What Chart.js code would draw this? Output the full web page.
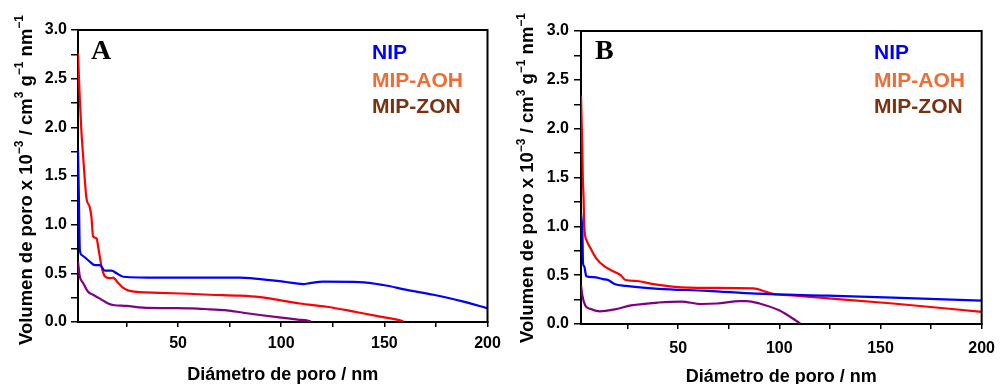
<!DOCTYPE html>
<html><head><meta charset="utf-8">
<script src="https://cdn.jsdelivr.net/npm/chart.js@4.4.0/dist/chart.umd.min.js"></script>
<style>html,body{margin:0;padding:0;background:#fff;width:1005px;height:384px;overflow:hidden}
canvas{position:absolute;left:0;top:0}</style></head>
<body>
<canvas id="cA" width="1005" height="384"></canvas>
<canvas id="cB" width="1005" height="384"></canvas>
<script>
// ---------- data (pore diameter in nm, pore volume x10^-3 cm3 g-1 nm-1) ----------
const seriesNames = ['NIP', 'MIP-AOH', 'MIP-ZON'];
const xTickValues = [25, 50, 75, 100, 125, 150, 175, 200];
const yTickValues = [0, 0.25, 0.5, 0.75, 1, 1.25, 1.5, 1.75, 2, 2.25, 2.5, 2.75, 3];

// Panel A
const xA_NIP = [1.5, 1.9, 2.4, 3.2, 5.6, 7.2, 9.7, 12.1, 14.5, 17.8, 20.2, 23.4, 41, 80, 85, 101, 110.7, 114, 120.4, 138, 149.5, 160.9, 173.8, 188.4, 200];
const yA_NIP = [1.77, 1.32, 0.74, 0.69, 0.65, 0.62, 0.585, 0.585, 0.527, 0.527, 0.50, 0.465, 0.455, 0.455, 0.45, 0.414, 0.39, 0.40, 0.414, 0.41, 0.38, 0.33, 0.28, 0.21, 0.14];
const xA_AOH = [1.5, 2.4, 3.2, 4.0, 4.8, 5.6, 7.2, 8.0, 8.8, 10.5, 11.3, 12.9, 14.5, 16.9, 18.5, 21.0, 23.4, 26.6, 41, 55, 65.5, 80, 89.7, 97.8, 109, 122, 133.4, 138.2, 148, 158.4, 159.2];
const yA_AOH = [2.76, 2.28, 1.94, 1.70, 1.46, 1.27, 1.18, 1.08, 0.88, 0.86, 0.77, 0.57, 0.47, 0.45, 0.455, 0.40, 0.35, 0.32, 0.30, 0.29, 0.28, 0.27, 0.255, 0.23, 0.19, 0.157, 0.115, 0.095, 0.055, 0.013, 0.005];
const xA_ZON = [1.5, 2.4, 4.0, 6.4, 8.8, 12.1, 16.1, 18.5, 25, 33, 45, 57, 65.5, 73.6, 81.6, 89.7, 100, 108, 114, 114.5];
const yA_ZON = [0.62, 0.465, 0.40, 0.31, 0.28, 0.24, 0.19, 0.175, 0.165, 0.147, 0.143, 0.14, 0.13, 0.12, 0.095, 0.072, 0.045, 0.025, 0.008, 0.002];

// Panel B
const xB_NIP = [2.0, 2.7, 3.0, 3.6, 4.6, 8.1, 12.9, 15.4, 18.6, 24.2, 40.3, 64.5, 88.6, 123.9, 156.2, 200];
const yB_NIP = [1.13, 0.93, 0.62, 0.59, 0.49, 0.48, 0.46, 0.45, 0.41, 0.39, 0.36, 0.34, 0.31, 0.29, 0.27, 0.24];
const xB_AOH = [2.0, 2.6, 2.9, 3.3, 3.6, 4.7, 7.1, 9.6, 13.6, 18.4, 21.6, 24.0, 29.7, 37.1, 48.4, 64.5, 87, 96.7, 107.9, 156.2, 200];
const yB_AOH = [2.34, 1.84, 1.5, 1.27, 1.0, 0.86, 0.76, 0.67, 0.59, 0.535, 0.50, 0.45, 0.44, 0.41, 0.38, 0.37, 0.365, 0.31, 0.29, 0.21, 0.125];
const xB_ZON = [2.0, 2.6, 4.1, 6.5, 11.3, 18.6, 26.7, 40.3, 51.6, 61.2, 69.3, 80.5, 83.8, 90.2, 99.9, 110.3];
const yB_ZON = [0.40, 0.30, 0.19, 0.155, 0.13, 0.15, 0.19, 0.22, 0.23, 0.205, 0.21, 0.235, 0.235, 0.21, 0.14, 0.007];

// ---------- styling ----------
const SANS = "'Liberation Sans', Arial, sans-serif";
const SERIF = "'Liberation Serif', 'Times New Roman', serif";
const lineColors = ['#0000ff', '#ff0000', '#800080'];
const legendColors = ['#0000ff', '#ef6c35', '#7a3210'];

function pts(xs, ys) { return xs.map((x, i) => ({ x: x, y: ys[i] })); }

function drawYTitle(ctx, x, cy, size) {
  const segs = [['Volumen de poro x 10', 0], ['\u22123', 1], [' / cm', 0], ['3', 1], [' g', 0], ['\u22121', 1], [' nm', 0], ['\u22121', 1]];
  const main = 'bold ' + size + 'px ' + SANS;
  const sup = 'bold ' + Math.round(size * 0.66) + 'px ' + SANS;
  let total = 0;
  const w = segs.map(s => { ctx.font = s[1] ? sup : main; const m = ctx.measureText(s[0]).width; total += m; return m; });
  ctx.save();
  ctx.translate(x, cy);
  ctx.rotate(-Math.PI / 2);
  ctx.fillStyle = '#000';
  ctx.textBaseline = 'alphabetic';
  ctx.textAlign = 'left';
  let pos = -total / 2;
  segs.forEach((s, i) => {
    ctx.font = s[1] ? sup : main;
    ctx.fillText(s[0], pos, s[1] ? -size * 0.45 : 0);
    pos += w[i];
  });
  ctx.restore();
}

function decor(p) {
  return {
    id: 'decor' + p.letter,
    afterDraw(chart) {
      const ctx = chart.ctx, a = chart.chartArea;
      ctx.save();
      // frame top & right
      ctx.strokeStyle = '#000';
      ctx.lineWidth = 2;
      ctx.beginPath();
      ctx.moveTo(a.left - 1, a.top);
      ctx.lineTo(a.right, a.top);
      ctx.lineTo(a.right, a.bottom + 1);
      ctx.stroke();
      // panel letter
      ctx.fillStyle = '#000';
      ctx.font = 'bold 28px ' + SERIF;
      ctx.textAlign = 'left';
      ctx.textBaseline = 'alphabetic';
      ctx.fillText(p.letter, p.letterX, 59);
      // legend text
      ctx.font = 'bold 21px ' + SANS;
      const ys = [59, 86.5, 113];
      seriesNames.forEach((n, i) => {
        ctx.fillStyle = legendColors[i];
        ctx.fillText(n, p.legX, ys[i]);
      });
      // x title
      ctx.fillStyle = '#000';
      ctx.font = 'bold 18px ' + SANS;
      ctx.textAlign = 'center';
      ctx.fillText('Di\u00e1metro de poro / nm', (a.left + a.right) / 2, p.xTitleY);
      ctx.restore();
      drawYTitle(ctx, p.yTitleX, p.yTitleCY, 18.5);
    }
  };
}

function makeChart(id, p, sets) {
  return new Chart(document.getElementById(id), {
    type: 'line',
    data: {
      datasets: sets.map((s, i) => ({
        label: seriesNames[i],
        data: pts(s[0], s[1]),
        borderColor: lineColors[i],
        backgroundColor: lineColors[i],
        borderWidth: 2.2,
        pointRadius: 0,
        fill: false,
        cubicInterpolationMode: 'monotone'
      }))
    },
    options: {
      responsive: false,
      animation: false,
      devicePixelRatio: 1,
      layout: { padding: { left: p.padLeft, right: p.padRight, top: p.padTop, bottom: 0 } },
      plugins: { legend: { display: false }, tooltip: { enabled: false }, title: { display: false } },
      scales: {
        x: {
          type: 'linear', min: p.xmin, max: 200,
          afterBuildTicks: s => { s.ticks = xTickValues.map(v => ({ value: v })); },
          afterFit: s => { s.height = p.xAxisH; },
          grid: { drawOnChartArea: false, drawTicks: true, tickLength: 5, color: '#000', lineWidth: 1.5 },
          border: { display: true, color: '#000', width: 2 },
          ticks: {
            autoSkip: false, maxRotation: 0, padding: p.xPad, color: '#000',
            font: { family: SANS, size: 16, weight: 'bold' },
            callback: v => (v % 50 === 0 ? String(v) : '')
          }
        },
        y: {
          type: 'linear', min: 0, max: 3,
          afterBuildTicks: s => { s.ticks = yTickValues.map(v => ({ value: v })); },
          afterFit: s => { s.width = 78; },
          grid: { drawOnChartArea: false, drawTicks: true, tickLength: 7, color: '#000', lineWidth: 1.5 },
          border: { display: true, color: '#000', width: 2 },
          ticks: {
            autoSkip: false, padding: p.yPad, color: '#000',
            font: { family: SANS, size: 16, weight: 'bold' },
            callback: v => (Math.abs(v * 2 - Math.round(v * 2)) < 1e-6 ? v.toFixed(1) : '')
          }
        }
      }
    },
    plugins: [decor(p)]
  });
}

makeChart('cA', {
  letter: 'A', letterX: 91, legX: 372, xTitleY: 380, yTitleX: 31.5, yTitleCY: 180,
  padLeft: 0, padRight: 1005 - 487.5, padTop: 30, xAxisH: 62, xmin: 1.5, xPad: 7, yPad: 4
}, [[xA_NIP, yA_NIP], [xA_AOH, yA_AOH], [xA_ZON, yA_ZON]]);

makeChart('cB', {
  letter: 'B', letterX: 595, legX: 874, xTitleY: 381.5, yTitleX: 533, yTitleCY: 178,
  padLeft: 581 - 78, padRight: 1005 - 991, padTop: 31, xAxisH: 60, xmin: 2, xPad: 10, yPad: 5
}, [[xB_NIP, yB_NIP], [xB_AOH, yB_AOH], [xB_ZON, yB_ZON]]);
</script>
</body></html>
